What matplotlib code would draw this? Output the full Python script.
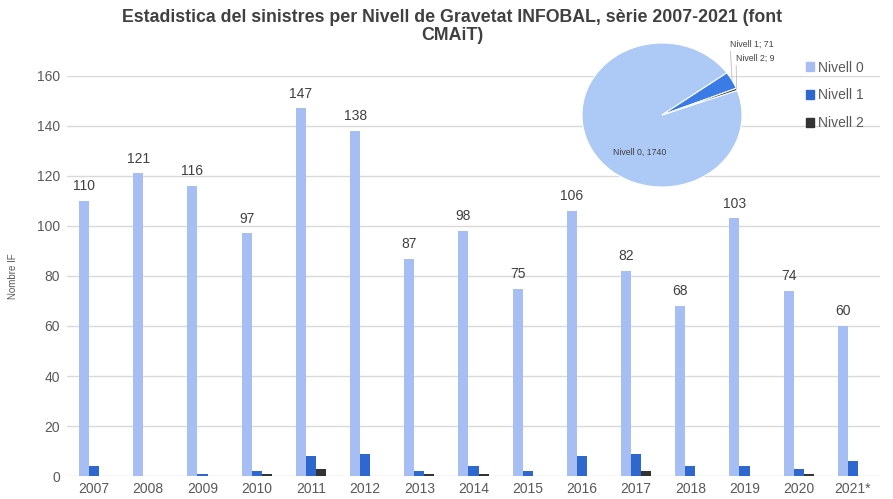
import numpy as np
import matplotlib
matplotlib.use("Agg")
from matplotlib import pyplot as plt
from matplotlib.patches import Patch

plt.rcParams["font.family"] = ["Liberation Sans", "DejaVu Sans"]

years = ["2007", "2008", "2009", "2010", "2011", "2012", "2013", "2014",
         "2015", "2016", "2017", "2018", "2019", "2020", "2021*"]
nivell0 = [110, 121, 116, 97, 147, 138, 87, 98, 75, 106, 82, 68, 103, 74, 60]
nivell1 = [4, 0, 1, 2, 8, 9, 2, 4, 2, 8, 9, 4, 4, 3, 6]
nivell2 = [0, 0, 0, 1, 3, 0, 1, 1, 0, 0, 2, 0, 0, 1, 0]

title_lines = ["Estadistica del sinistres per Nivell de Gravetat INFOBAL, sèrie 2007-2021 (font",
               "CMAiT)"]
pie_labels = ["Nivell 0, 1740", "Nivell 1; 71", "Nivell 2; 9"]
pie_values = [1740, 71, 9]
legend_names = ["Nivell 0", "Nivell 1", "Nivell 2"]

BAR_COLORS = ["#a6bef4", "#2e68cf", "#333333"]
PIE_COLORS = ["#adc9f5", "#3a7be6", "#333333"]
GRID = "#d9d9d9"
TXT = "#595959"

fig = plt.figure(figsize=(8.93, 4.99), dpi=100)
ax = fig.add_axes([67 / 893, 1 - 476 / 499, 813 / 893, 400 / 499])

x = np.arange(len(years))
w = 0.185
ax.bar(x - w, nivell0, width=w, color=BAR_COLORS[0], zorder=2)
ax.bar(x, nivell1, width=w, color=BAR_COLORS[1], zorder=2)
ax.bar(x + w, nivell2, width=w, color=BAR_COLORS[2], zorder=2)

for xi, v in zip(x, nivell0):
    ax.text(xi - w, v + 3, str(v), ha="center", va="bottom", fontsize=10, color="#404040")

ax.set_xlim(-0.5, len(years) - 0.5)
ax.set_ylim(0, 160)
ax.set_yticks(range(0, 161, 20))
ax.set_xticks(x)
ax.set_xticklabels(years)
ax.grid(axis="y", color=GRID, linewidth=1, zorder=0)
for s in ax.spines.values():
    s.set_visible(False)
ax.tick_params(length=0, labelsize=10, colors=TXT)
ax.tick_params(axis="y", pad=5)
ax.tick_params(axis="x", pad=4)
ax.set_ylabel("Nombre IF", fontsize=7, color=TXT)
ax.yaxis.set_label_coords(-(67 - 18) / 813, 0.5)

# title, one text per line
for line, ty in zip(title_lines, [17, 36]):
    fig.text(452 / 893, 1 - ty / 499, line, ha="center", va="center",
             fontsize=12.8, fontweight="bold", color="#404040")

# pie inset
pax = fig.add_axes([582 / 893, 1 - 187 / 499, 160 / 893, 144 / 499])
wedges, _ = pax.pie(pie_values, colors=PIE_COLORS, startangle=20, counterclock=False,
                    wedgeprops=dict(edgecolor="white", linewidth=0.8))
pax.set_aspect("auto")
pax.set_xlim(-1, 1)
pax.set_ylim(-1, 1)

pax.text(-0.28, -0.52, pie_labels[0], fontsize=6.3, color="#404040", ha="center", va="center")
for i, (tx, ty) in zip([1, 2], [(730, 44), (736, 58)]):
    wd = wedges[i]
    ang = np.deg2rad((wd.theta1 + wd.theta2) / 2)
    px, py = np.cos(ang), np.sin(ang)
    pax.annotate(pie_labels[i], xy=(px, py), xycoords="data",
                 xytext=(tx / 893, 1 - ty / 499), textcoords="figure fraction",
                 fontsize=6.3, color="#404040", ha="left", va="center",
                 arrowprops=dict(arrowstyle="-", color="#bfbfbf", linewidth=0.6,
                                 shrinkA=0, shrinkB=0, relpos=(0, 0.5)))

handles = [Patch(color=c) for c in BAR_COLORS]
fig.legend(handles, legend_names, loc="upper left", bbox_to_anchor=(793 / 893, 1 - 48 / 499),
           frameon=False, fontsize=10, labelcolor=TXT, handlelength=0.6, handleheight=0.6,
           handletextpad=0.3, labelspacing=1.0)

fig.savefig("out.png", dpi=100)
